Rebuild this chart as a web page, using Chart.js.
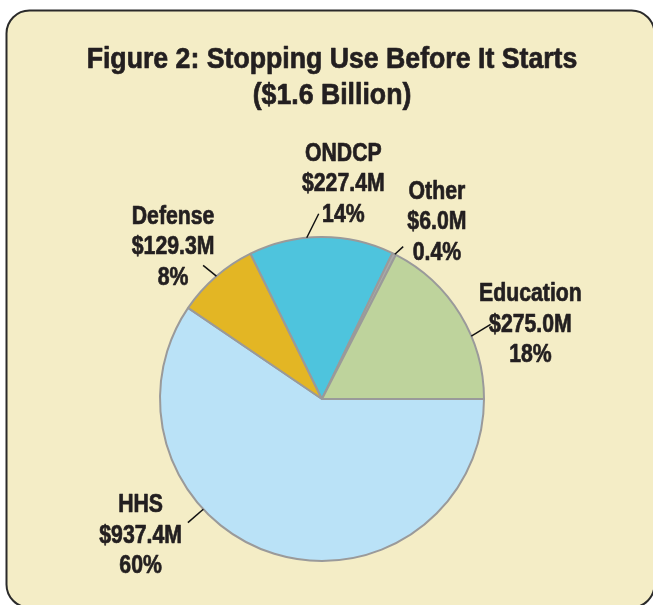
<!DOCTYPE html>
<html>
<head>
<meta charset="utf-8">
<script src="https://cdn.jsdelivr.net/npm/chart.js@4/dist/chart.umd.min.js"></script>
<style>
  html, body { margin: 0; padding: 0; background: #ffffff; }
  #wrap { width: 653px; height: 605px; }
</style>
</head>
<body>
<div id="wrap"><canvas id="c" width="653" height="605"></canvas></div>
<script>
// ---- data ----
const categories = ['HHS', 'Defense', 'ONDCP', 'Other', 'Education'];
const amounts = [937.4, 129.3, 227.4, 6.0, 275.0];
const amountLabels = ['$937.4M', '$129.3M', '$227.4M', '$6.0M', '$275.0M'];
const percentLabels = ['60%', '8%', '14%', '0.4%', '18%'];
const titleLines = ['Figure 2: Stopping Use Before It Starts', '($1.6 Billion)'];

// ---- styles ----
const sliceColors = ['#BAE2F7', '#E3B624', '#4EC4DD', '#A9A9A9', '#BED39C'];
const textColor = '#231F20';
// leader placement per slice: t = fraction along arc, lead = leader vector, text = offset of middle line from leader end
const labelLayout = [
  { t: 0.64, lead: [-15.4, 13.4], text: [-47.3, 20.3] },
  { t: 0.51, lead: [-13.3, -10.7], text: [-30, -11] },
  { t: 0.40, lead: [12, -24], text: [24.6, -22.3] },
  { t: 0.70, lead: [8.3, -7.7], text: [33.7, -17.3] },
  { t: 0.637, lead: [19.3, -11.7], text: [39.8, 7.4] }
];

function condensedText(ctx, text, x, y, font, sx) {
  ctx.save();
  ctx.font = font;
  ctx.translate(x, y);
  ctx.scale(sx, 1);
  ctx.textAlign = 'center';
  ctx.textBaseline = 'alphabetic';
  ctx.fillStyle = textColor;
  ctx.strokeStyle = textColor;
  ctx.lineWidth = 0.7;
  ctx.lineJoin = 'round';
  ctx.fillText(text, 0, 0);
  ctx.strokeText(text, 0, 0);
  ctx.restore();
}

const backgroundPlugin = {
  id: 'panel',
  beforeDraw(chart) {
    const ctx = chart.ctx;
    ctx.save();
    ctx.fillStyle = '#ffffff';
    ctx.fillRect(0, 0, chart.width, chart.height);
    const x = 6.5, y = 10.5, w = 648, h = 597, r = 23;
    ctx.beginPath();
    ctx.moveTo(x + r, y);
    ctx.lineTo(x + w - r, y);
    ctx.arcTo(x + w, y, x + w, y + r, r);
    ctx.lineTo(x + w, y + h - r);
    ctx.arcTo(x + w, y + h, x + w - r, y + h, r);
    ctx.lineTo(x + r, y + h);
    ctx.arcTo(x, y + h, x, y + h - r, r);
    ctx.lineTo(x, y + r);
    ctx.arcTo(x, y, x + r, y, r);
    ctx.closePath();
    ctx.fillStyle = '#F4EDC6';
    ctx.fill();
    ctx.lineWidth = 2;
    ctx.strokeStyle = '#2A2A2A';
    ctx.stroke();
    ctx.restore();
    // title
    condensedText(ctx, titleLines[0], 332, 67.5, 'bold 29px "Liberation Sans", Arial, sans-serif', 0.92);
    condensedText(ctx, titleLines[1], 332, 104, 'bold 29px "Liberation Sans", Arial, sans-serif', 0.92);
  }
};

const labelPlugin = {
  id: 'sliceLabels',
  afterDatasetsDraw(chart) {
    const ctx = chart.ctx;
    const meta = chart.getDatasetMeta(0);
    meta.data.forEach((arc, i) => {
      const L = labelLayout[i];
      const a = arc.startAngle + L.t * (arc.endAngle - arc.startAngle);
      const sx = arc.x + Math.cos(a) * arc.outerRadius;
      const sy = arc.y + Math.sin(a) * arc.outerRadius;
      const ex = sx + L.lead[0];
      const ey = sy + L.lead[1];
      ctx.save();
      ctx.beginPath();
      ctx.moveTo(sx, sy);
      ctx.lineTo(ex, ey);
      ctx.lineWidth = 1.5;
      ctx.strokeStyle = '#111111';
      ctx.stroke();
      ctx.restore();
      const tx = ex + L.text[0];
      const ty = ey + L.text[1];
      const font = 'bold 25px "Liberation Sans", Arial, sans-serif';
      const lines = [categories[i], amountLabels[i], percentLabels[i]];
      lines.forEach((s, k) => condensedText(ctx, s, tx, ty + (k - 1) * 30.5, font, 0.85));
    });
  }
};

new Chart(document.getElementById('c'), {
  type: 'pie',
  data: {
    labels: categories,
    datasets: [{
      data: amounts,
      backgroundColor: sliceColors,
      borderColor: '#9A9A9A',
      borderWidth: 2
    }]
  },
  options: {
    responsive: false,
    animation: false,
    devicePixelRatio: 1,
    rotation: 90,
    layout: { padding: { left: 159, right: 168, top: 236, bottom: 43 } },
    plugins: {
      legend: { display: false },
      title: { display: false },
      tooltip: { enabled: false }
    }
  },
  plugins: [backgroundPlugin, labelPlugin]
});
</script>
</body>
</html>
